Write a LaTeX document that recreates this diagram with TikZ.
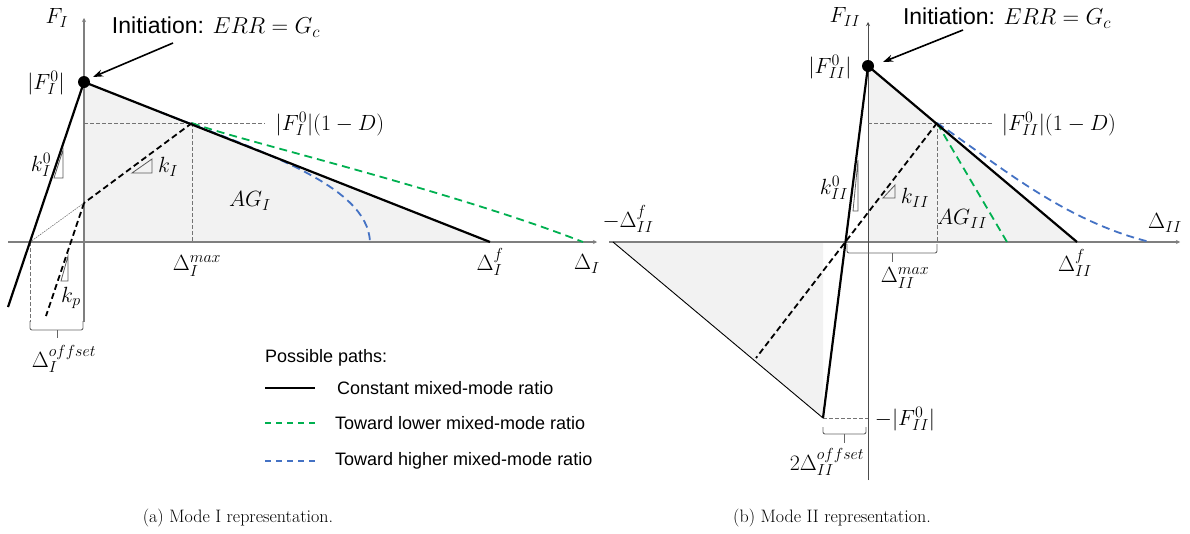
\RequirePackage{fix-cm}
\documentclass[tikz,border=0pt]{standalone}
\usepackage{fontspec}
\setsansfont{Liberation Sans}
\usetikzlibrary{arrows.meta}
\DeclareMathSizes{22}{22}{16}{12}
\DeclareMathSizes{23}{23}{17}{13}
\definecolor{fillgray}{HTML}{F2F2F2}
\definecolor{axisgray}{HTML}{7F7F7F}
\definecolor{pgreen}{HTML}{00B050}
\definecolor{pblue}{HTML}{4472C4}
\begin{document}
\begin{tikzpicture}[x=1pt,y=-1pt,
  axis/.style={draw=axisgray, line width=2pt, -{Stealth[length=4pt,width=4pt]}},
  thinaxis/.style={draw=black!70, line width=1pt, -{Stealth[length=4pt,width=4pt]}},
  solidline/.style={draw=black, line width=2.2pt},
  thinline/.style={draw=black, line width=0.9pt},
  blackdash/.style={draw=black, line width=1.8pt, dash pattern=on 6pt off 3.5pt},
  greendash/.style={draw=pgreen, line width=1.8pt, dash pattern=on 8pt off 5pt},
  bluedash/.style={draw=pblue, line width=1.8pt, dash pattern=on 8pt off 5pt},
  guide/.style={draw=black!55, line width=0.7pt, dash pattern=on 3.5pt off 2.5pt},
  tri/.style={draw=black!65, line width=0.8pt},
  brk/.style={draw=black!60, line width=0.9pt, rounded corners=2pt},
  lbl/.style={font=\fontsize{22}{25}\selectfont, inner sep=0pt},
  txt/.style={font=\sffamily\fontsize{18}{21}\selectfont, inner sep=0pt},
  inittxt/.style={font=\sffamily\fontsize{23}{26}\selectfont, inner sep=0pt},
  captxt/.style={font=\rmfamily\fontsize{18}{21}\selectfont, inner sep=0pt},
  pointer/.style={draw=black, line width=1.6pt, -{Stealth[length=10pt,width=7pt]}}
]
\useasboundingbox (0,0) rectangle (1190,533);

%================ LEFT PANEL =================
\coordinate (O1) at (84,242);
\coordinate (P1) at (84,82);
\coordinate (D1) at (192,123);
\coordinate (F1) at (490,242);
\coordinate (S1) at (30,242);
\coordinate (K1) at (84,203);
\coordinate (E1) at (8,307);
\coordinate (Kp1) at (46,316);
\coordinate (G1) at (583,242);
\coordinate (B0) at (160,112);
\coordinate (B1) at (370,242);
\coordinate (Dx1) at (192,242);
\coordinate (Dy1) at (84,123);
\coordinate (Dh1) at (265,123);
\coordinate (Ax1s) at (8,242);
\coordinate (Ax1e) at (597,242);
\coordinate (Ay1s) at (84,322);
\coordinate (Ay1e) at (84,18);
\coordinate (Sd1) at (30,322);

\fill[fillgray] (P1) -- (F1) -- (O1) -- cycle;

\draw[axis] (Ax1s) -- (Ax1e);
\draw[axis] (Ay1s) -- (Ay1e);

\draw[guide] (Dy1) -- (Dh1);
\draw[guide] (D1) -- (Dx1);
\draw[guide] (S1) -- (Sd1);
\draw[draw=black!55, line width=0.6pt, dash pattern=on 1.5pt off 1pt] (S1) -- (K1);

\draw[greendash] (D1) .. controls (230,138) and (450,190) .. (G1);
\draw[bluedash] (B0) .. controls (260,151) and (368,185) .. (B1);
\draw[solidline] (P1) -- (F1);
\draw[solidline] (P1) -- (E1);
\draw[blackdash] (D1) -- (K1);
\draw[blackdash] (K1) -- (Kp1);

\draw[tri] (63,150) -- (63,178) -- (54,178) -- cycle;
\draw[tri] (132,173) -- (152,173) -- (152,159) -- cycle;
\draw[tri] (68,256) -- (68,281) -- (61,281) -- cycle;

\draw[brk] (30,321) -- (30,330) -- (83,330) -- (83,321);
\draw[draw=black!60, line width=0.9pt] (57,330) -- (57,338);

\fill[black] (P1) circle (6);

\node[lbl] (FI) at (57,18) {$F_I$};
\node[inittxt] (init1) at (216,27) {Initiation: $ERR = G_c$};
\coordinate (init1s) at (173,43);
\coordinate (init1e) at (93,77);
\draw[pointer] (init1s) -- (init1e);
\node[lbl] (F0I) at (46,83) {$\Bigl|F_I^0\Bigr|$};
\node[lbl] (F0ID) at (330,124) {$\Bigl|F_I^0\Bigr|(1-D)$};
\node[lbl] (kI0) at (41,165) {$k_I^0$};
\node[lbl] (kI) at (168,167) {$k_I$};
\node[lbl] (AGI) at (250,201) {$AG_I$};
\node[lbl] (kp) at (71,298) {$k_p$};
\node[lbl] (dImax) at (197,266) {$\Delta_I^{max}$};
\node[lbl] (dIf) at (490,262) {$\Delta_I^f$};
\node[lbl] (dI) at (587,264) {$\Delta_I$};
\node[lbl] (dIoff) at (64,359) {$\Delta_I^{offset}$};

% legend
\node[txt, anchor=west] (leg0) at (265,358) {Possible paths:};
\coordinate (l1a) at (265,388); \coordinate (l1b) at (315,388);
\coordinate (l2a) at (265,423); \coordinate (l2b) at (315,423);
\coordinate (l3a) at (265,461); \coordinate (l3b) at (315,461);
\draw[draw=black, line width=1.5pt] (l1a) -- (l1b);
\draw[draw=pgreen, line width=1.5pt, dash pattern=on 6pt off 5pt] (l2a) -- (l2b);
\draw[draw=pblue, line width=1.5pt, dash pattern=on 6pt off 5pt] (l3a) -- (l3b);
\node[txt, anchor=west] (leg1) at (337,388) {Constant mixed-mode ratio};
\node[txt, anchor=west] (leg2) at (335,423) {Toward lower mixed-mode ratio};
\node[txt, anchor=west] (leg3) at (335,461) {Toward higher mixed-mode ratio};

%================ RIGHT PANEL =================
\coordinate (O2) at (868,242);
\coordinate (P2) at (868,66);
\coordinate (D2) at (937,123);
\coordinate (F2) at (1077,242);
\coordinate (N2) at (613,242);
\coordinate (M2) at (823,418);
\coordinate (L2) at (823,242);
\coordinate (U2) at (756,358);
\coordinate (G2) at (1007,242);
\coordinate (B2) at (1150,242);
\coordinate (Dh2) at (993,123);
\coordinate (Dy2) at (868,123);
\coordinate (Dx2) at (937,242);
\coordinate (My2) at (868,418);
\coordinate (Ax2s) at (609,242);
\coordinate (Ax2e) at (1180,242);
\coordinate (Ay2s) at (868,480);
\coordinate (Ay2e) at (868,22);

\fill[fillgray] (P2) -- (F2) -- (O2) -- cycle;
\fill[fillgray] (N2) -- (M2) -- (L2) -- cycle;

\draw[axis] (Ax2s) -- (Ax2e);
\draw[thinaxis] (Ay2s) -- (Ay2e);

\draw[guide] (Dy2) -- (Dh2);
\draw[guide] (D2) -- (Dx2);
\draw[guide] (M2) -- (My2);

\draw[thinline] (N2) -- (M2);
\draw[greendash] (D2) -- (G2);
\draw[bluedash] (D2) .. controls (990,158) and (1060,220) .. (B2);
\draw[solidline] (P2) -- (F2);
\draw[solidline] (P2) -- (M2);
\draw[blackdash] (D2) -- (U2);

\draw[tri] (858,160) -- (858,211) -- (853,211) -- cycle;
\draw[tri] (883,198) -- (895,198) -- (895,185) -- cycle;

\draw[brk] (847,244) -- (847,253) -- (937,253) -- (937,244);
\draw[draw=black!60, line width=0.9pt] (892,253) -- (892,262);
\draw[brk] (823,427) -- (823,434) -- (866,434) -- (866,427);
\draw[draw=black!60, line width=0.9pt] (844,434) -- (844,443);

\fill[black] (P2) circle (6);

\node[lbl] (FII) at (845,17) {$F_{II}$};
\node[inittxt] (init2) at (1007,18) {Initiation: $ERR = G_c$};
\coordinate (init2s) at (963,30);
\coordinate (init2e) at (883,62);
\draw[pointer] (init2s) -- (init2e);
\node[lbl] (F0II) at (830,67) {$\Bigl|F_{II}^0\Bigr|$};
\node[lbl] (F0IID) at (1059,124) {$\Bigl|F_{II}^0\Bigr|(1-D)$};
\node[lbl] (kII0) at (834,188) {$k_{II}^0$};
\node[lbl] (kII) at (915,198) {$k_{II}$};
\node[lbl] (AGII) at (962,219) {$AG_{II}$};
\node[lbl] (dIIf) at (1075,263) {$\Delta_{II}^f$};
\node[lbl] (dII) at (1165,223) {$\Delta_{II}$};
\node[lbl] (mdIIf) at (628,219) {$-\Delta_{II}^f$};
\node[lbl] (dIImax) at (905,278) {$\Delta_{II}^{max}$};
\node[lbl] (mF0II) at (905,419) {$-\Bigl|F_{II}^0\Bigr|$};
\node[lbl] (dIIoff) at (827,462) {$2\Delta_{II}^{offset}$};

% captions
\node[captxt] (capa) at (238,518) {(a) Mode I representation.};
\node[captxt] (capb) at (832,518) {(b) Mode II representation.};
\end{tikzpicture}
\end{document}
